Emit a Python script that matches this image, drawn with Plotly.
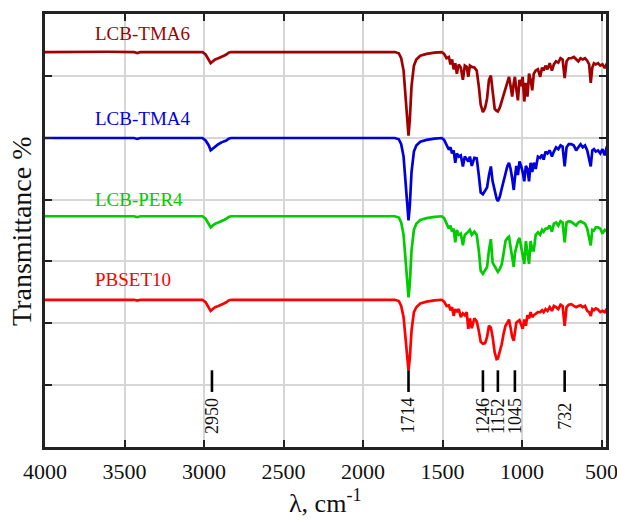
import plotly.graph_objects as go

# Wavenumbers (cm^-1)
wavenumber = [4000, 3800, 3600, 3440, 3420, 3400, 3200, 3010, 2990, 2970,
              2958, 2945, 2930, 2910, 2890, 2875, 2860, 2845, 2830, 2600,
              2300, 2000, 1800, 1775, 1760, 1745, 1732, 1722, 1714, 1706,
              1695, 1680, 1665, 1640, 1600, 1550, 1505, 1490, 1475, 1460,
              1450, 1440, 1430, 1420, 1410, 1398, 1385, 1372, 1360, 1348,
              1338, 1328, 1316, 1300, 1285, 1272, 1260, 1246, 1232, 1220,
              1208, 1196, 1185, 1172, 1160, 1152, 1140, 1128, 1116, 1104,
              1092, 1082, 1072, 1062, 1052, 1045, 1036, 1026, 1016, 1006,
              996, 986, 976, 966, 956, 946, 936, 926, 914, 900,
              886, 874, 864, 852, 840, 826, 812, 800, 786, 772,
              758, 745, 732, 720, 706, 690, 674, 660, 646, 632,
              618, 604, 590, 578, 568, 558, 548, 536, 522, 508,
              494, 480, 468, 460]

# Relative transmittance of each sample (arbitrary units)
tma6 = [0, 0.005, 0.005, 0, -0.015, 0, 0, 0, -0.04, -0.12,
        -0.18, -0.15, -0.12, -0.1, -0.07, -0.06, -0.04, -0.01, 0, 0,
        0, 0.005, 0, -0.02, -0.1, -0.3, -0.7, -1.1, -1.35, -1.1,
        -0.55, -0.22, -0.12, -0.06, -0.03, -0.01, 0.0, -0.03, -0.1, -0.08,
        -0.2, -0.12, -0.28, -0.18, -0.35, -0.2, -0.25, -0.45, -0.22, -0.24,
        -0.4, -0.22, -0.24, -0.25, -0.3, -0.55, -0.85, -0.97, -0.9, -0.75,
        -0.45, -0.38, -0.6, -0.92, -0.95, -0.96, -0.9, -0.8, -0.7, -0.58,
        -0.5, -0.4, -0.55, -0.72, -0.5, -0.4, -0.6, -0.78, -0.45, -0.55,
        -0.4, -0.8, -0.5, -0.72, -0.35, -0.45, -0.62, -0.35, -0.3, -0.28,
        -0.4, -0.25, -0.3, -0.22, -0.28, -0.18, -0.3, -0.2, -0.15, -0.17,
        -0.1, -0.12, -0.42, -0.15, -0.1, -0.1, -0.08, -0.12, -0.15, -0.1,
        -0.12, -0.1, -0.14, -0.2, -0.5, -0.25, -0.18, -0.2, -0.18, -0.22,
        -0.2, -0.26, -0.2, -0.15]

tma4 = [0, 0.005, 0, 0, -0.015, 0, 0, 0, -0.04, -0.12,
        -0.2, -0.17, -0.13, -0.1, -0.07, -0.06, -0.04, -0.01, 0, 0,
        0, 0, 0, -0.02, -0.1, -0.3, -0.7, -1.1, -1.33, -1.1,
        -0.55, -0.22, -0.12, -0.06, -0.03, -0.01, 0, -0.03, -0.1, -0.19,
        -0.15, -0.25, -0.2, -0.4, -0.25, -0.3, -0.28, -0.46, -0.3, -0.35,
        -0.38, -0.3, -0.45, -0.32, -0.33, -0.6, -0.88, -0.91, -0.86, -0.8,
        -0.6, -0.46, -0.7, -0.85, -0.98, -1.02, -0.95, -0.82, -0.7, -0.6,
        -0.45, -0.4, -0.5, -0.65, -0.84, -0.65, -0.45, -0.6, -0.38, -0.45,
        -0.55, -0.7, -0.45, -0.5, -0.7, -0.4, -0.55, -0.4, -0.5, -0.3,
        -0.32, -0.27, -0.35, -0.22, -0.25, -0.2, -0.3, -0.22, -0.15, -0.18,
        -0.12, -0.14, -0.46, -0.15, -0.1, -0.1, -0.12, -0.2, -0.15, -0.1,
        -0.15, -0.12, -0.2, -0.35, -0.46, -0.2, -0.18, -0.22, -0.2, -0.25,
        -0.18, -0.28, -0.15, -0.12]

per4 = [0, 0.005, 0, 0, -0.015, 0, 0, 0, -0.04, -0.12,
        -0.18, -0.15, -0.12, -0.1, -0.07, -0.06, -0.04, -0.01, 0, 0,
        0, 0, 0, -0.02, -0.1, -0.3, -0.7, -1.1, -1.31, -1.1,
        -0.55, -0.22, -0.12, -0.06, -0.03, -0.01, 0, -0.03, -0.12, -0.2,
        -0.15, -0.25, -0.2, -0.42, -0.22, -0.3, -0.28, -0.47, -0.3, -0.28,
        -0.25, -0.22, -0.3, -0.25, -0.3, -0.55, -0.88, -0.93, -0.88, -0.82,
        -0.55, -0.37, -0.75, -0.82, -0.88, -0.9, -0.85, -0.78, -0.6, -0.4,
        -0.35, -0.33, -0.5, -0.7, -0.82, -0.6, -0.48, -0.4, -0.35, -0.5,
        -0.65, -0.77, -0.4, -0.6, -0.77, -0.4, -0.55, -0.55, -0.3, -0.26,
        -0.3, -0.22, -0.25, -0.2, -0.2, -0.15, -0.25, -0.12, -0.1, -0.15,
        -0.08, -0.1, -0.42, -0.1, -0.08, -0.09, -0.12, -0.15, -0.1, -0.08,
        -0.1, -0.12, -0.2, -0.35, -0.47, -0.22, -0.23, -0.18, -0.18, -0.2,
        -0.28, -0.22, -0.24, -0.18]

pbset10 = [0, 0.005, 0, 0, -0.012, 0, 0, 0, -0.04, -0.12,
           -0.18, -0.15, -0.12, -0.1, -0.07, -0.06, -0.04, -0.01, 0, 0,
           0, 0, 0, -0.02, -0.1, -0.28, -0.62, -0.95, -1.14, -0.95,
           -0.5, -0.2, -0.12, -0.06, -0.03, -0.01, 0, -0.03, -0.1, -0.09,
           -0.17, -0.12, -0.26, -0.15, -0.2, -0.15, -0.28, -0.22, -0.25, -0.2,
           -0.47, -0.3, -0.46, -0.3, -0.35, -0.5, -0.68, -0.71, -0.7, -0.6,
           -0.42, -0.45, -0.6, -0.85, -0.96, -0.95, -0.85, -0.72, -0.55, -0.42,
           -0.37, -0.32, -0.45, -0.6, -0.66, -0.5, -0.37, -0.35, -0.33, -0.4,
           -0.47, -0.32, -0.42, -0.25, -0.3, -0.2, -0.28, -0.25, -0.22, -0.2,
           -0.2, -0.17, -0.2, -0.15, -0.18, -0.12, -0.18, -0.1, -0.12, -0.15,
           -0.08, -0.1, -0.42, -0.12, -0.08, -0.07, -0.1, -0.12, -0.1, -0.09,
           -0.12, -0.1, -0.18, -0.2, -0.26, -0.15, -0.17, -0.14, -0.16, -0.2,
           -0.18, -0.2, -0.15, -0.15]

series_names = ["LCB-TMA6", "LCB-TMA4", "LCB-PER4", "PBSET10"]
series_values = [tma6, tma4, per4, pbset10]

# Marked band positions
peak_positions = [2950, 1714, 1246, 1152, 1045, 732]
peak_labels = ["2950", "1714", "1246", "1152", "1045", "732"]

x_ticks = [4000, 3500, 3000, 2500, 2000, 1500, 1000, 500]

# ---- styling / layout (not data) ----
stack_offsets = [6.385, 4.995, 3.73, 2.38]
colors = ["#A00000", "#0000DD", "#00CC00", "#FF0000"]
label_y = [6.68, 5.31, 4.0, 2.71]
SERIF = "Liberation Serif, Times New Roman, serif"

fig = go.Figure()

for name, vals, off, col in zip(series_names, series_values, stack_offsets, colors):
    fig.add_trace(go.Scatter(
        x=wavenumber, y=[v + off for v in vals], mode="lines", name=name,
        line=dict(color=col, width=2.7), showlegend=False))

# peak marker bars
mx, my = [], []
for p in peak_positions:
    mx += [p, p, None]
    my += [1.24, 0.89, None]
fig.add_trace(go.Scatter(x=mx, y=my, mode="lines",
                         line=dict(color="black", width=2.6),
                         showlegend=False, hoverinfo="skip"))

for p, lab in zip(peak_positions, peak_labels):
    fig.add_annotation(x=p, y=0.5, text=lab, textangle=-90, showarrow=False,
                       xanchor="center", yanchor="middle",
                       font=dict(family=SERIF, size=18, color="#111"))

for name, col, ly in zip(series_names, colors, label_y):
    fig.add_annotation(x=3700, y=ly, text=name, showarrow=False,
                       xanchor="left", yanchor="middle",
                       font=dict(family=SERIF, size=19, color=col))

# axis titles
fig.add_annotation(xref="paper", yref="paper", x=-0.042, y=0.50,
                   text="Transmittance %", textangle=-90, showarrow=False,
                   xanchor="center", yanchor="middle",
                   font=dict(family=SERIF, size=28, color="#111"))
fig.add_annotation(xref="paper", yref="paper", x=0.5, y=-0.127,
                   text="λ, cm<sup>-1</sup>", showarrow=False,
                   xanchor="center", yanchor="middle",
                   font=dict(family=SERIF, size=26, color="#111"))

fig.update_xaxes(range=[4000, 472], tickvals=x_ticks, automargin=False,
                 ticklabeloverflow="allow",
                 ticks="inside", ticklen=7, tickwidth=2, tickcolor="#222",
                 showline=True, linecolor="#222", linewidth=2.5, mirror="ticks",
                 showgrid=True, gridcolor="#d6d6d6", gridwidth=1.5,
                 zeroline=False, ticklabelstandoff=3,
                 tickfont=dict(family=SERIF, size=22, color="#111"))
fig.update_yaxes(range=[0, 7], dtick=1, tick0=0, showticklabels=False,
                 automargin=False,
                 ticks="inside", ticklen=7, tickwidth=2, tickcolor="#222",
                 showline=True, linecolor="#222", linewidth=2.5, mirror="ticks",
                 showgrid=True, gridcolor="#d6d6d6", gridwidth=1.5,
                 zeroline=False)

fig.update_layout(width=617, height=522,
                  margin=dict(l=45, r=11, t=14, b=75, autoexpand=False),
                  plot_bgcolor="white", paper_bgcolor="white",
                  showlegend=False)

fig.write_html("out.html")
